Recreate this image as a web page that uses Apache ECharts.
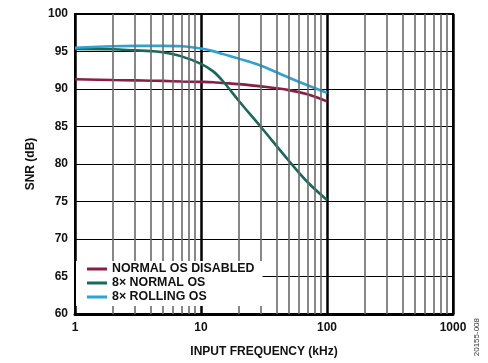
<!DOCTYPE html>
<html>
<head>
<meta charset="utf-8">
<script src="https://cdn.jsdelivr.net/npm/echarts@6/dist/echarts.min.js"></script>
<style>
html,body{margin:0;padding:0;background:#fff;}
#c{width:488px;height:363px;}
</style>
</head>
<body>
<div id="c"></div>
<script>
// Data (frequency in kHz, SNR in dB)
const freqKHz = [1, 2, 3, 4, 5, 7, 10, 12.5, 15, 20, 30, 50, 70, 100];
const normalOsDisabled = [91.3, 91.2, 91.15, 91.1, 91.08, 91.0, 90.95, 90.9, 90.8, 90.65, 90.35, 89.85, 89.3, 88.35];
const normal8x = [95.35, 95.3, 95.15, 95.05, 94.9, 94.35, 93.35, 92.35, 91.0, 88.4, 84.9, 80.4, 77.6, 75.2];
const rolling8x = [95.5, 95.7, 95.75, 95.75, 95.75, 95.7, 95.4, 95.05, 94.65, 94.05, 93.1, 91.5, 90.5, 89.5];
const seriesNames = ['NORMAL OS DISABLED', '8\u00d7 NORMAL OS', '8\u00d7 ROLLING OS'];
const minorGridX = [2,3,4,5,6,7,8,9,20,30,40,50,60,70,80,90,200,300,400,500,600,700,800,900];
const xTicks = [1, 10, 100, 1000];
const yTicks = [60, 65, 70, 75, 80, 85, 90, 95, 100];

const colors = ['#8c1d45', '#17695a', '#2ba3d6'];
const font = 'Liberation Sans, Arial, sans-serif';

function pairs(ys){ return freqKHz.map((f,i)=>[f, ys[i]]); }

const chart = echarts.init(document.getElementById('c'), null, {renderer:'canvas'});
chart.setOption({
  animation: false,
  backgroundColor: '#fff',
  grid: {left: 75, right: 35, top: 14, bottom: 49, show: true, borderColor: '#000', borderWidth: 2, backgroundColor: 'transparent'},
  xAxis: {
    type: 'log', logBase: 10, min: xTicks[0], max: xTicks[xTicks.length-1],
    name: 'INPUT FREQUENCY (kHz)', nameLocation: 'middle', nameGap: 32,
    nameTextStyle: {fontFamily: font, fontSize: 12, fontWeight: 'bold', color: '#111'},
    axisLine: {show: true, lineStyle: {color: '#000', width: 3}},
    axisTick: {show: false},
    axisLabel: {fontFamily: font, fontSize: 12, fontWeight: 'bold', color: '#111', margin: 8,
      formatter: v => String(Math.round(v))},
    splitLine: {show: true, lineStyle: {color: '#000', width: 2.5}}
  },
  yAxis: {
    type: 'value', min: yTicks[0], max: yTicks[yTicks.length-1], interval: 5,
    name: 'SNR (dB)', nameLocation: 'middle', nameGap: 38, nameRotate: 90,
    nameTextStyle: {fontFamily: font, fontSize: 12, fontWeight: 'bold', color: '#111'},
    axisLine: {show: true, lineStyle: {color: '#000', width: 2}},
    axisTick: {show: false},
    axisLabel: {fontFamily: font, fontSize: 12, fontWeight: 'bold', color: '#111', margin: 7},
    splitLine: {show: true, lineStyle: {color: '#000', width: 1}}
  },
  legend: {
    orient: 'vertical', left: 76, top: 261, z: 20, zlevel: 0,
    backgroundColor: '#ffffff', padding: [2, 8, 3, 11],
    itemWidth: 20, itemHeight: 3, itemGap: 2,
    icon: 'rect',
    textStyle: {fontFamily: font, fontSize: 12.4, fontWeight: 'bold', color: '#111'},
    data: seriesNames
  },
  series: [
    {
      type: 'line', name: '_grid', data: [], silent: true, z: 1,
      markLine: {
        silent: true, symbol: 'none', animation: false,
        label: {show: false},
        lineStyle: {color: '#6a6a6a', width: 1.6, type: 'solid'},
        data: minorGridX.map(v => ({xAxis: v}))
      }
    },
    {name: seriesNames[0], type: 'line', data: pairs(normalOsDisabled), smooth: 0.35, showSymbol: false, z: 3,
     lineStyle: {color: colors[0], width: 2.6}, itemStyle: {color: colors[0]}},
    {name: seriesNames[1], type: 'line', data: pairs(normal8x), smooth: 0.35, showSymbol: false, z: 3,
     lineStyle: {color: colors[1], width: 2.6}, itemStyle: {color: colors[1]}},
    {name: seriesNames[2], type: 'line', data: pairs(rolling8x), smooth: 0.35, showSymbol: false, z: 3,
     lineStyle: {color: colors[2], width: 2.6}, itemStyle: {color: colors[2]}}
  ],
  graphic: [{
    type: 'text', left: 473, top: 318, rotation: Math.PI/2,
    style: {text: '20155-008', font: '8px ' + font, fill: '#333'}
  }]
});
</script>
</body>
</html>
